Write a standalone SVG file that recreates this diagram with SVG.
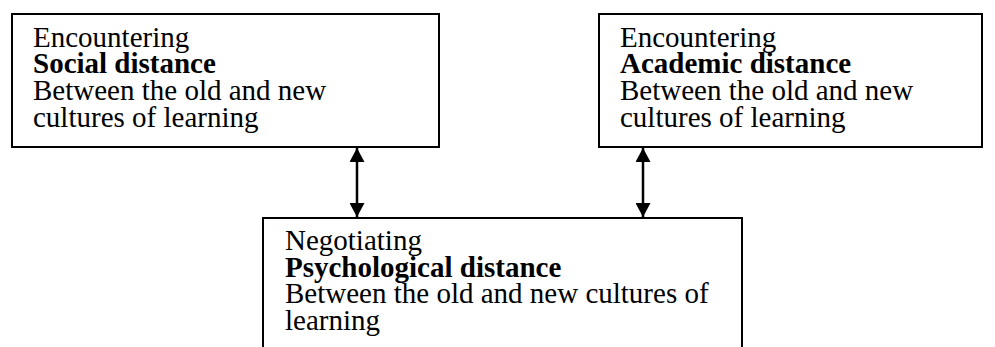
<svg xmlns="http://www.w3.org/2000/svg" width="995" height="347" viewBox="0 0 995 347">
<style>
.box{fill:#fff;stroke:#000;stroke-width:2}
text{font-family:"Liberation Serif","Times New Roman",serif;font-size:29px;fill:#000}
.b{font-weight:bold}
.conn{stroke:#000;stroke-width:2.5;fill:none}
</style>
<defs>
<marker id="ah" viewBox="0 0 14 15" refX="14" refY="7.5" markerWidth="14" markerHeight="15" markerUnits="userSpaceOnUse" orient="auto-start-reverse">
<path d="M0,0 L14,7.5 L0,15 Z" fill="#000"/>
</marker>
</defs>
<g id="social">
<rect class="box" x="12" y="14" width="427" height="133"/>
<text x="33" y="46.7">Encountering</text>
<text x="33" y="73.3" class="b">Social distance</text>
<text x="33" y="100">Between the old and new</text>
<text x="33" y="126.7">cultures of learning</text>
</g>
<g id="academic">
<rect class="box" x="599" y="14" width="383" height="133"/>
<text x="620" y="46.7">Encountering</text>
<text x="620" y="73.3" class="b">Academic distance</text>
<text x="620" y="100">Between the old and new</text>
<text x="620" y="126.7">cultures of learning</text>
</g>
<g id="psychological">
<path class="box" d="M263,348 V218 H742 V348"/>
<text x="285" y="250">Negotiating</text>
<text x="285" y="276.7" class="b">Psychological distance</text>
<text x="285" y="303.3">Between the old and new cultures of</text>
<text x="285" y="330">learning</text>
</g>
<g id="connectors">
<line class="conn" x1="357" y1="148" x2="357" y2="217" marker-start="url(#ah)" marker-end="url(#ah)"/>
<line class="conn" x1="643" y1="148" x2="643" y2="217" marker-start="url(#ah)" marker-end="url(#ah)"/>
</g>
</svg>
